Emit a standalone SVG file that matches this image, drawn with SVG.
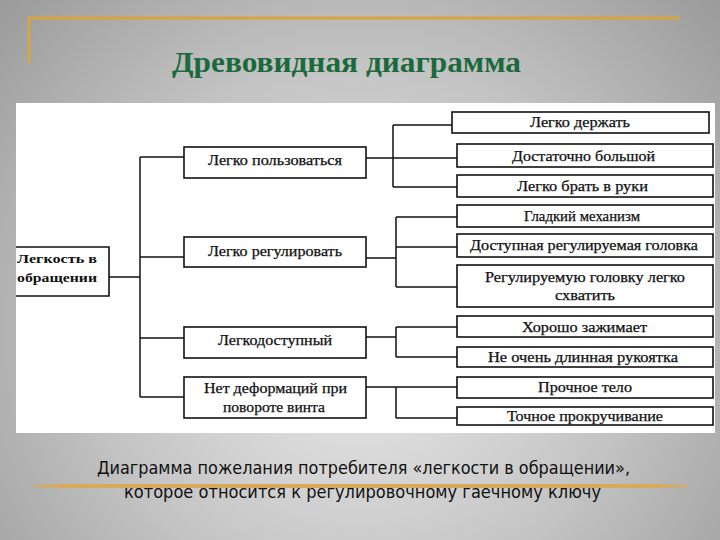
<svg xmlns="http://www.w3.org/2000/svg" width="720" height="540" viewBox="0 0 720 540">
<defs>
<radialGradient id="bg" cx="360" cy="330" r="480" gradientUnits="userSpaceOnUse">
<stop offset="0" stop-color="#ececec"/>
<stop offset="0.55" stop-color="#c4c4c4"/>
<stop offset="1" stop-color="#9c9c9c"/>
</radialGradient>
<linearGradient id="goldfade" x1="33" y1="0" x2="688" y2="0" gradientUnits="userSpaceOnUse">
<stop offset="0" stop-color="#d9a85a" stop-opacity="0.4"/>
<stop offset="0.05" stop-color="#d9a85a"/>
<stop offset="0.95" stop-color="#d9a85a"/>
<stop offset="1" stop-color="#d9a85a" stop-opacity="0.4"/>
</linearGradient>
<style>
.box{fill:#fff;stroke:#111;stroke-width:1.6}
.lbl{font-family:"Liberation Serif","DejaVu Serif",serif;font-size:14px;fill:#111;stroke:#111;stroke-width:0.25}
.root{font-family:"Liberation Serif","DejaVu Serif",serif;font-size:13px;font-weight:bold;fill:#111}
.con{fill:none;stroke:#111;stroke-width:1.5}
.title{font-family:"Liberation Serif","DejaVu Serif",serif;font-size:29px;font-weight:bold;fill:#1b6a3d}
.cap{font-family:"DejaVu Sans","Noto Sans",sans-serif;font-size:18px;fill:#111}
</style>
</defs>
<rect x="0" y="0" width="720" height="540" fill="url(#bg)"/>
<g id="decor">
<path d="M29,63 V18 H680" fill="none" stroke="#d4a642" stroke-width="3"/>
<line x1="33" y1="486" x2="688" y2="486" stroke="url(#goldfade)" stroke-width="4"/>
</g>
<text class="title" x="172" y="72" textLength="349" lengthAdjust="spacingAndGlyphs">Древовидная диаграмма</text>
<rect id="panel" x="16" y="103" width="699" height="330" fill="#fff"/>
<g id="connectors" class="con">
<path d="M109,277 H140"/>
<path d="M140,157 V397"/>
<path d="M140,157 H184 M140,257 H184 M140,338 H184 M140,397 H184"/>
<path d="M366,158 H393 M393,125 V187 M393,125 H452 M393,158 H457 M393,187 H457"/>
<path d="M366,258 H396 M396,217 V287 M396,217 H457 M396,247 H457 M396,287 H457"/>
<path d="M366,337 H396 M396,327 V357 M396,327 H457 M396,357 H457"/>
<path d="M366,387 H457 M396,387 V418 M396,418 H457"/>
</g>
<g id="root">
<path d="M16,247 H109 V296 H16" fill="#fff" stroke="#111" stroke-width="1.6"/>
<text class="root" x="17" y="263" textLength="80" lengthAdjust="spacingAndGlyphs">Легкость в</text>
<text class="root" x="17" y="282" textLength="80" lengthAdjust="spacingAndGlyphs">обращении</text>
</g>
<g id="n-use">
<rect class="box" x="184" y="147" width="182" height="31"/>
<text class="lbl" x="208" y="165" textLength="134" lengthAdjust="spacingAndGlyphs">Легко пользоваться</text>
</g>
<g id="n-adjust">
<rect class="box" x="184" y="237" width="182" height="30"/>
<text class="lbl" x="208" y="256" textLength="134" lengthAdjust="spacingAndGlyphs">Легко регулировать</text>
</g>
<g id="n-access">
<rect class="box" x="184" y="327" width="182" height="31"/>
<text class="lbl" x="218" y="345" textLength="114" lengthAdjust="spacingAndGlyphs">Легкодоступный</text>
</g>
<g id="n-nodeform">
<rect class="box" x="184" y="377" width="182" height="41"/>
<text class="lbl" x="204" y="393" textLength="143" lengthAdjust="spacingAndGlyphs">Нет деформаций при</text>
<text class="lbl" x="223" y="412" textLength="102" lengthAdjust="spacingAndGlyphs">повороте винта</text>
</g>
<g id="l1">
<rect class="box" x="452" y="112" width="257" height="21"/>
<text class="lbl" x="530" y="127" textLength="100" lengthAdjust="spacingAndGlyphs">Легко держать</text>
</g>
<g id="l2">
<rect class="box" x="457" y="144" width="256" height="23"/>
<text class="lbl" x="512" y="161" textLength="143" lengthAdjust="spacingAndGlyphs">Достаточно большой</text>
</g>
<g id="l3">
<rect class="box" x="457" y="175" width="256" height="22"/>
<text class="lbl" x="517" y="191" textLength="131" lengthAdjust="spacingAndGlyphs">Легко брать в руки</text>
</g>
<g id="l4">
<rect class="box" x="457" y="205" width="256" height="22"/>
<text class="lbl" x="524" y="221" textLength="116" lengthAdjust="spacingAndGlyphs">Гладкий механизм</text>
</g>
<g id="l5">
<rect class="box" x="457" y="234" width="256" height="23"/>
<text class="lbl" x="470" y="250" textLength="228" lengthAdjust="spacingAndGlyphs">Доступная регулируемая головка</text>
</g>
<g id="l6">
<rect class="box" x="457" y="265" width="256" height="42"/>
<text class="lbl" x="485" y="282" textLength="200" lengthAdjust="spacingAndGlyphs">Регулируемую головку легко</text>
<text class="lbl" x="555" y="300" textLength="60" lengthAdjust="spacingAndGlyphs">схватить</text>
</g>
<g id="l7">
<rect class="box" x="457" y="316" width="256" height="21"/>
<text class="lbl" x="522" y="332" textLength="125" lengthAdjust="spacingAndGlyphs">Хорошо зажимает</text>
</g>
<g id="l8">
<rect class="box" x="457" y="347" width="256" height="20"/>
<text class="lbl" x="488" y="362" textLength="190" lengthAdjust="spacingAndGlyphs">Не очень длинная рукоятка</text>
</g>
<g id="l9">
<rect class="box" x="457" y="377" width="256" height="21"/>
<text class="lbl" x="538" y="392" textLength="94" lengthAdjust="spacingAndGlyphs">Прочное тело</text>
</g>
<g id="l10">
<rect class="box" x="457" y="407" width="256" height="18"/>
<text class="lbl" x="507" y="421" textLength="156" lengthAdjust="spacingAndGlyphs">Точное прокручивание</text>
</g>
<text class="cap" x="97" y="474" textLength="533" lengthAdjust="spacingAndGlyphs">Диаграмма пожелания потребителя «легкости в обращении»,</text>
<text class="cap" x="124" y="498" textLength="477" lengthAdjust="spacingAndGlyphs">которое относится к регулировочному гаечному ключу</text>
</svg>
